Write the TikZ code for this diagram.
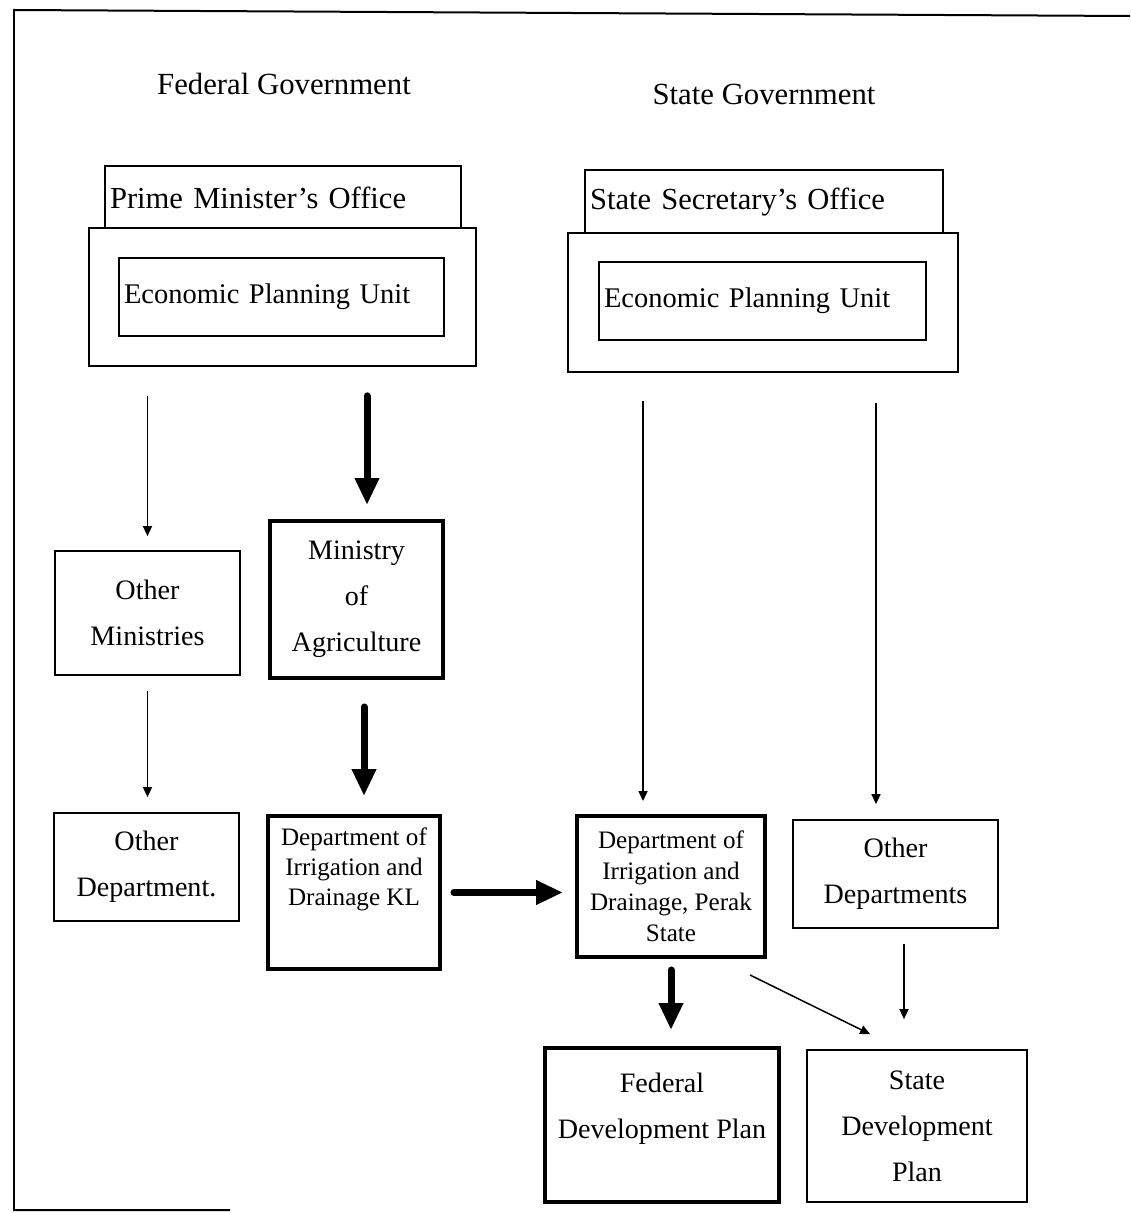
\documentclass[tikz,border=0pt]{standalone}
\usepackage{fontspec}
\setmainfont{Liberation Serif}
\usetikzlibrary{arrows.meta,positioning}
\tikzset{
    box/.style={rectangle, draw, line width=0.035cm, align=center, inner sep=0pt, font=\fontsize{16}{26.2}\selectfont},
    boldbox/.style={box, line width=0.08cm},
    smallbox/.style={boldbox, font=\fontsize{14.3}{17.6}\selectfont},
    officebox/.style={rectangle, draw, line width=0.035cm, fill=white, inner xsep=0.1cm, inner ysep=0pt, align=left, font=\fontsize{17.4}{20}\selectfont},
    unitbox/.style={officebox, font=\fontsize{16.2}{20}\selectfont},
    outerbox/.style={rectangle, draw, line width=0.035cm, fill=white},
    heading/.style={font=\fontsize{17.5}{21}\selectfont},
    boxtext/.style={align=center, inner sep=0pt, font=\fontsize{16}{26.2}\selectfont},
    smalltext/.style={align=center, inner sep=0pt, font=\fontsize{14.3}{17.1}\selectfont},
    thinedge/.style={draw, line width=0.03cm, -{Triangle[length=0.2cm, width=0.18cm]}},
    thickedge/.style={draw, line width=0.14cm, line cap=round, -{Triangle[length=0.54cm, width=0.46cm]}}
}
\begin{document}
\begin{tikzpicture}[x=0.02cm, y=-0.02cm]
    \useasboundingbox (0,0) rectangle (1130,1213);
    % frame
    \draw[line width=0.04cm] (230,1210) -- (14,1210) -- (14,10) -- (1130,16);

    % headings
    \node[heading] (fedgov) at (284,84) {Federal Government};
    \node[heading] (stategov) at (764,94) {State Government};

    % offices
    \node[officebox, minimum height=1.28cm, text width=6.92cm] (pmo) at (283,198) {Prime Minister's Office};
    \node[outerbox, minimum width=7.74cm, minimum height=2.76cm] (fedbig) at (282.5,297) {};
    \node[unitbox, minimum height=1.56cm, text width=6.3cm] (fedepu) at (281.5,297) {Economic Planning Unit};

    \node[officebox, minimum height=1.28cm, text width=6.96cm] (sso) at (764,202) {State Secretary's Office};
    \node[outerbox, minimum width=7.8cm, minimum height=2.78cm] (statebig) at (763,302.5) {};
    \node[unitbox, minimum height=1.56cm, text width=6.34cm] (stateepu) at (762.5,301) {Economic Planning Unit};

    % Nodes
    \node[box, minimum width=3.7cm, minimum height=2.48cm] (othmin) at (147.5,613) {Other\\Ministries};
    \node[boldbox, minimum width=3.46cm, minimum height=3.14cm] (moa) at (356.5,599.5) {Ministry\\of\\Agriculture};
    \node[box, minimum width=3.7cm, minimum height=2.16cm] (othdept) at (146.5,867) {Other\\Department.};
    \node[boldbox, minimum width=3.44cm, minimum height=3.06cm] (didkl) at (354,892.5) {};
    \node[smalltext, below=0.26cm of didkl.north] (didkltext) {Department of\\Irrigation and\\Drainage KL};
    \node[smallbox, minimum width=3.76cm, minimum height=2.82cm] (didperak) at (671,886.5) {Department of\\Irrigation and\\Drainage, Perak\\State};
    \node[box, minimum width=4.1cm, minimum height=2.16cm] (othdepts) at (895.5,874) {Other\\Departments};
    \node[boldbox, minimum width=4.68cm, minimum height=3.08cm] (fdp) at (662,1125) {};
    \node[boxtext, below=0.54cm of fdp.north] (fdptext) {Federal\\Development Plan};
    \node[box, minimum width=4.4cm, minimum height=3.04cm] (sdp) at (917,1126) {State\\Development\\Plan};

    % edges
    \draw[thinedge, shorten <=0.58cm, shorten >=0.28cm] (othmin.north |- fedbig.south) -- (othmin.north);
    \draw[thickedge, shorten <=0.58cm, shorten >=0.28cm] ([xshift=0.21cm]moa.north |- fedbig.south) -- ([xshift=0.21cm]moa.north);
    \draw[thinedge, shorten <=0.3cm, shorten >=0.3cm] (othmin.south) -- (othmin.south |- othdept.north);
    \draw[thickedge, shorten <=0.54cm, shorten >=0.36cm] ([xshift=0.2cm]didkl.north |- moa.south) -- ([xshift=0.2cm]didkl.north);
    \draw[thickedge, shorten <=0.24cm, shorten >=0.24cm] (didkl.east) -- (didkl.east -| didperak.west);
    \draw[thinedge, shorten <=0.56cm, shorten >=0.26cm] ([xshift=-0.56cm]didperak.north |- statebig.south) -- ([xshift=-0.56cm]didperak.north);
    \draw[thinedge, shorten <=0.6cm, shorten >=0.3cm] ([xshift=-0.39cm]othdepts.north |- statebig.south) -- ([xshift=-0.39cm]othdepts.north);
    \draw[thickedge, shorten <=0.22cm, shorten >=0.32cm] (didperak.south) -- (didperak.south |- fdp.north);
    \draw[thinedge] ([shift={(-17,16)}]didperak.south east) -- ([shift={(64,-15)}]sdp.north west);
    \draw[thinedge, shorten <=0.3cm, shorten >=0.6cm] ([xshift=0.17cm]othdepts.south) -- ([xshift=0.17cm]othdepts.south |- sdp.north);
\end{tikzpicture}
\end{document}
